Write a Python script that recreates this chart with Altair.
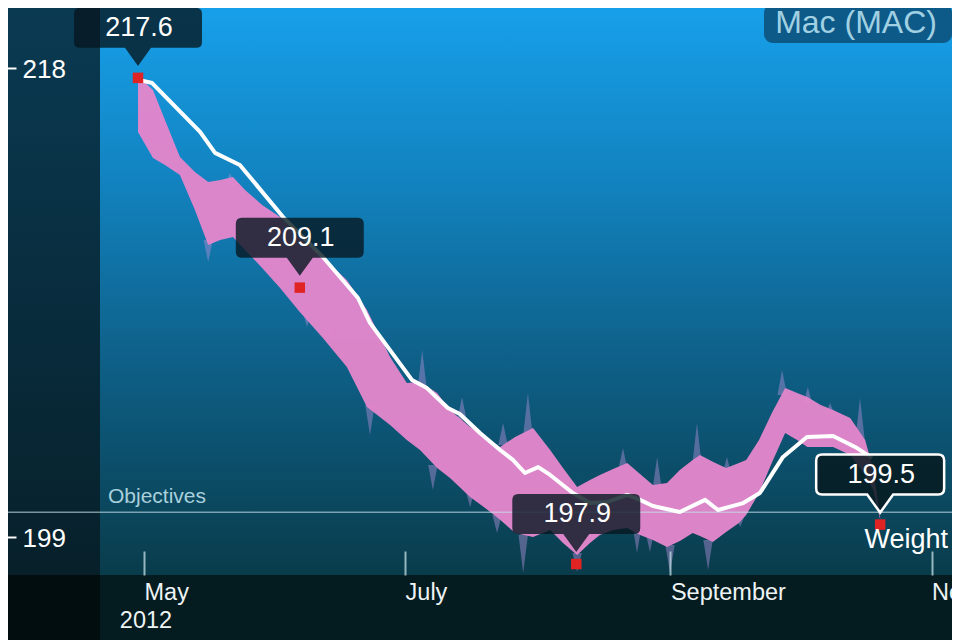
import altair as alt
import pandas as pd

BASE = pd.Timestamp("2012-05-01")

# ---- data (day offsets from 1 May 2012) ----
trend_days = [-0.9, 1.9, 13.1, 16.6, 22.4, 32.5, 41.8, 50.0, 52.8, 62.6, 66.1, 71.0,
              73.8, 78.5, 83.2, 86.2, 89.0, 92.1, 94.9, 100.2, 104.2, 108.2, 112.9,
              115.9, 118.9, 125.2, 131.1, 134.1, 140.0, 143.9, 149.3, 154.9, 161.0,
              166.6, 170.1]
trend_values = [217.51, 217.39, 215.41, 214.56, 214.07, 211.96, 210.34, 208.68, 207.67,
                205.36, 205.03, 204.22, 203.98, 203.21, 202.52, 202.12, 201.59, 201.83,
                201.51, 200.78, 200.37, 200.41, 200.70, 200.50, 200.25, 200.01, 200.50,
                200.09, 200.37, 200.78, 202.24, 203.05, 203.09, 202.60, 202.20]

band_days = [-1.4, 2.1, 4.9, 8.4, 11.9, 15.0, 17.8, 20.8, 23.6, 27.6, 31.8, 36.4, 41.8,
             47.4, 52.1, 57.5, 61.4, 64.5, 68.5, 71.5, 76.2, 79.7, 83.2, 86.7, 90.9,
             94.9, 97.9, 101.2, 104.2, 106.5, 109.6, 112.9, 115.9, 118.9, 122.2, 125.2,
             128.2, 129.9, 132.9, 136.0, 139.0, 140.7, 143.7, 146.7, 149.8, 152.6,
             155.0, 158.1, 161.0, 165.0, 168.5, 170.4, 172.0]
band_high = [217.68, 217.11, 215.89, 214.39, 213.79, 213.38, 213.46, 213.58, 213.06,
             212.45, 211.96, 211.11, 210.30, 209.41, 208.19, 206.29, 205.24, 205.28,
             204.83, 204.14, 203.45, 203.05, 202.64, 203.05, 203.41, 202.52, 201.79,
             201.02, 201.31, 201.51, 201.75, 201.99, 201.55, 201.10, 201.18, 201.71,
             202.12, 202.32, 202.04, 201.79, 201.99, 202.12, 202.93, 204.02, 205.03,
             204.83, 204.67, 204.34, 204.14, 203.82, 202.93, 201.71, 199.77]
band_low = [215.41, 214.35, 214.07, 213.66, 212.25, 210.83, 211.03, 211.15, 210.63,
            209.90, 209.09, 208.11, 207.06, 205.88, 204.26, 203.53, 202.93, 202.52,
            201.79, 201.39, 200.62, 200.17, 199.69, 199.16, 199.00, 199.28, 198.75,
            198.27, 198.75, 199.08, 199.28, 199.36, 199.08, 198.87, 198.59, 198.83,
            199.16, 199.04, 198.79, 199.20, 199.56, 199.89, 200.78, 202.00, 203.21,
            202.93, 202.64, 202.64, 202.64, 202.32, 201.51, 200.90, 199.69]

spike_days = [20.1, 65.0, 74.3, 83.9, 89.7, 111.9, 119.9, 129.2, 136.2, 149.1, 155.1,
              160.3, 167.3, 15.0, 38.1, 42.8, 52.8, 67.5, 76.2, 82.5, 88.6, 101.2,
              115.2, 118.2, 122.9, 131.8, 139.3]
spike_tips = [213.75, 206.57, 204.67, 203.62, 204.83, 202.60, 202.24, 203.62, 202.24,
              205.76, 205.07, 204.43, 204.63, 210.14, 207.51, 206.90, 203.13, 200.90,
              200.21, 199.16, 197.54, 197.58, 198.35, 198.39, 197.54, 197.66, 199.40]
spike_bases = [213.26, 204.95, 203.74, 202.72, 203.13, 201.71, 200.90, 201.91, 201.51,
               204.75, 204.34, 203.94, 202.93, 211.03, 208.19, 207.38, 204.34, 201.91,
               200.90, 199.89, 199.08, 198.35, 199.48, 199.28, 198.67, 198.87, 199.89]

marker_days = [-1.4, 36.4, 101.0, 172.0]
marker_values = [217.6, 209.1, 197.9, 199.5]
objective_value = 200
y_tick_values = [199, 218]
month_tick_months = [5, 7, 9, 11]
series_label = "Weight"
objective_label = "Objectives"
profile_label = "Mac (MAC)"
year_label = "2012"


def to_dates(days):
    return [BASE + pd.Timedelta(days=d) for d in days]


trend_df = pd.DataFrame({"date": to_dates(trend_days), "v": trend_values})
band_df = pd.DataFrame({"date": to_dates(band_days), "v": band_high, "lo": band_low})

spike_rows = []
for i, (d, tip, base) in enumerate(zip(spike_days, spike_tips, spike_bases)):
    for off, val in ((-1.1, base), (0.0, tip), (1.1, base)):
        spike_rows.append({"id": i, "date": BASE + pd.Timedelta(days=d + off),
                           "v": val, "base": base})
spike_df = pd.DataFrame(spike_rows)

marker_df = pd.DataFrame({"date": to_dates(marker_days), "v": marker_values,
                          "label": [f"{v:.1f}" for v in marker_values],
                          "last": [False, False, False, True]})
one = pd.DataFrame({"k": [0]})
obj_df = pd.DataFrame({"v": [objective_value], "label": [objective_label]})
year_df = pd.DataFrame({"date": [BASE], "label": [year_label]})

FONT = "Liberation Sans"
W, H = 852, 567
LEFT, BOTTOM = 92, 65

x_scale = alt.Scale(domain=[alt.DateTime(year=2012, month=4, date=20, hours=17, minutes=17),
                            alt.DateTime(year=2012, month=11, date=5, hours=18, minutes=50)])
y_scale = alt.Scale(domain=[197.456, 220.431], nice=False, zero=False)

x_axis = alt.Axis(values=[alt.DateTime(year=2012, month=m, date=1) for m in month_tick_months],
                  format="%B", orient="bottom", offset=-24, domain=False, grid=False,
                  ticks=True, tickSize=24, tickWidth=2, tickColor="#b8d4dc", tickOpacity=0.8,
                  labelAlign="left", labelBaseline="top", labelPadding=5,
                  labelFontSize=23.5, labelColor="#eef3f4", labelFont=FONT,
                  labelFlush=False, labelOverlap=False, labelBound=False, title=None,
                  zindex=1)
y_axis = alt.Axis(values=y_tick_values, orient="left", offset=84, domain=False, grid=False,
                  tickSize=16, tickWidth=2, tickColor="white", labelAlign="left",
                  labelBaseline="middle", labelPadding=-22, labelOffset=2, labelFontSize=26,
                  labelColor="white", labelFont=FONT, title=None, zindex=1)


def X(f="date:T"):
    return alt.X(f, scale=x_scale, axis=x_axis)


def Y(f="v:Q"):
    return alt.Y(f, scale=y_scale, axis=y_axis)


plot_bg = alt.Chart(one).mark_rect(
    color=alt.LinearGradient(gradient="linear", x1=0, x2=0, y1=0, y2=1, stops=[
        alt.GradientStop(color="#17a0ea", offset=0),
        alt.GradientStop(color="#1283c0", offset=0.3),
        alt.GradientStop(color="#0e6088", offset=0.62),
        alt.GradientStop(color="#093c4b", offset=1)])
).encode(x=alt.value(0), x2=alt.value(W), y=alt.value(0), y2=alt.value(H))

left_bg = alt.Chart(one).mark_rect(
    color=alt.LinearGradient(gradient="linear", x1=0, x2=0, y1=0, y2=1, stops=[
        alt.GradientStop(color="#0a3a52", offset=0),
        alt.GradientStop(color="#07202a", offset=1)])
).encode(x=alt.value(-LEFT), x2=alt.value(0), y=alt.value(0), y2=alt.value(H))

corner_bg = alt.Chart(one).mark_rect(color="#020d10").encode(
    x=alt.value(-LEFT), x2=alt.value(0), y=alt.value(H), y2=alt.value(H + BOTTOM))

spikes = alt.Chart(spike_df).mark_area(color="#b090d8", opacity=0.45).encode(
    x=X(), y=Y(), y2="base:Q", detail="id:N")

band = alt.Chart(band_df).mark_area(color="#e286cb", opacity=0.97).encode(
    x=X(), y=Y(), y2="lo:Q")

obj_rule = alt.Chart(obj_df).mark_rule(color="#c4e0e8", opacity=0.6, strokeWidth=1.5).encode(
    y=Y(), x=alt.value(-LEFT), x2=alt.value(W))
obj_text = alt.Chart(obj_df).mark_text(align="left", baseline="alphabetic", dy=-9,
                                       fontSize=21, font=FONT, color="#a9d0dc").encode(
    y=Y(), x=alt.value(8), text="label:N")

trend = alt.Chart(trend_df).mark_line(color="white", strokeWidth=4, strokeJoin="round").encode(
    x=X(), y=Y())

dots = alt.Chart(marker_df).mark_square(size=110, color="#e02424", opacity=1).encode(x=X(), y=Y())

CALLOUT = ("M -0.829 -1 L 0.829 -1 Q 0.914 -1 0.914 -0.914 L 0.914 -0.514 "
           "Q 0.914 -0.4286 0.829 -0.4286 L 0.186 -0.4286 L 0 -0.171 L -0.186 -0.4286 "
           "L -0.829 -0.4286 Q -0.914 -0.4286 -0.914 -0.514 L -0.914 -0.914 "
           "Q -0.914 -1 -0.829 -1 Z")

boxes = alt.Chart(marker_df).transform_filter("!datum.last").mark_point(
    shape=CALLOUT, size=19600, filled=True, fill="#061820", fillOpacity=0.8,
    strokeWidth=0).encode(x=X(), y=Y())
box_last = alt.Chart(marker_df).transform_filter("datum.last").mark_point(
    shape=CALLOUT, size=19600, filled=True, fill="#071a20", fillOpacity=0.85,
    stroke="white", strokeWidth=2.5, strokeOpacity=1).encode(x=X(), y=Y())
box_text = alt.Chart(marker_df).mark_text(dy=-50, dx=1, baseline="middle", fontSize=27,
                                          font=FONT, color="white").encode(
    x=X(), y=Y(), text="label:N")

weight_text = alt.Chart(marker_df).transform_filter("datum.last").transform_calculate(
    name=f"'{series_label}'").mark_text(dx=26, dy=23, align="center", baseline="alphabetic",
                                        fontSize=27, font=FONT, color="white").encode(
    x=X(), y=Y(), text="name:N")

year_text = alt.Chart(year_df).mark_text(dx=2, align="center", baseline="middle",
                                         fontSize=23.5, font=FONT, color="#eef3f4").encode(
    x=X(), y=alt.value(613), text="label:N")

profile_box = alt.Chart(one).mark_rect(color="#0d5a88", cornerRadius=9).encode(
    x=alt.value(664), x2=alt.value(W), y=alt.value(-4), y2=alt.value(35))
profile_text = alt.Chart(one).transform_calculate(t=f"'{profile_label}'").mark_text(
    align="center", baseline="middle", fontSize=32, font=FONT, color="#a0d0e2").encode(
    x=alt.value(756), y=alt.value(15), text="t:N")

chart = alt.layer(
    plot_bg, left_bg, corner_bg, spikes, band, obj_rule, obj_text, trend, dots,
    boxes, box_last, box_text, weight_text, year_text, profile_box, profile_text
).properties(
    width=W, height=H, autosize="none",
    padding={"left": LEFT, "top": 0, "right": 0, "bottom": BOTTOM}
).configure(background="#041b20").configure_view(strokeWidth=0, stroke=None)

chart.save("out.html", embed_options={"renderer": "svg", "actions": False})
